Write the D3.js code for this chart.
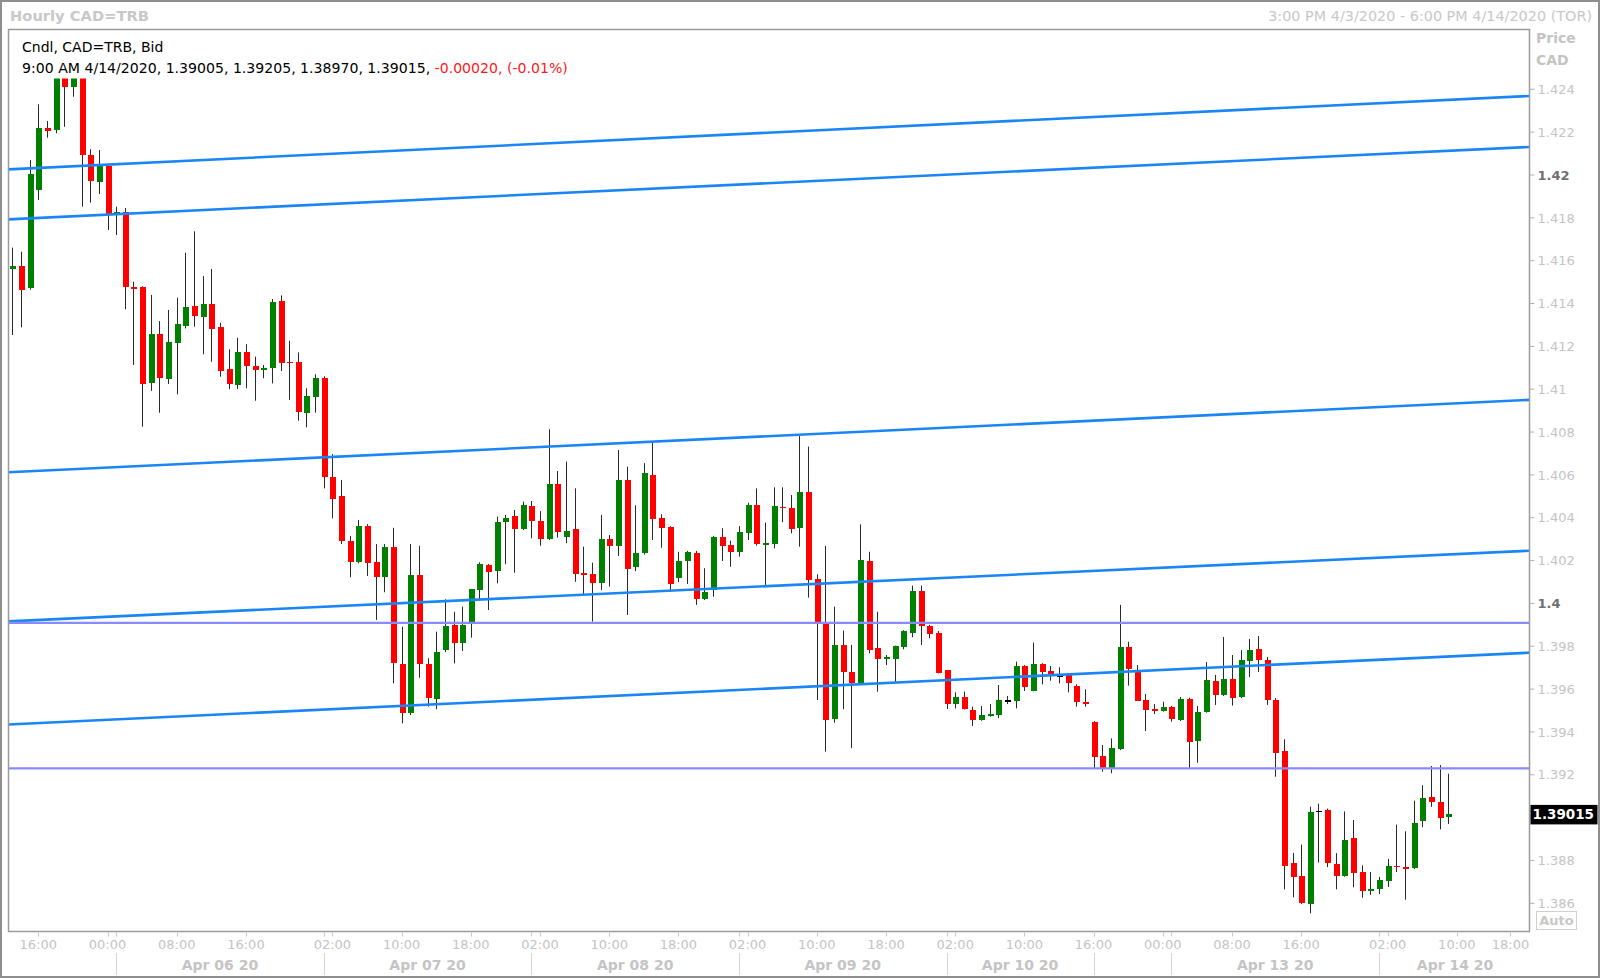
<!DOCTYPE html>
<html><head><meta charset="utf-8">
<script src="https://cdn.jsdelivr.net/npm/d3@7"></script>
<style>
body{margin:0;background:#fff;}
svg{display:block;}
text{font-family:"DejaVu Sans",sans-serif;}
</style>
</head><body>
<svg id="chart" width="1600" height="978"></svg>
<script>
// ---------- DATA ----------
const opens = [1.41561,1.41577,1.41474,1.41930,1.42218,1.42210,1.42500,1.42409,1.42520,1.42092,
1.41969,1.42042,1.41818,1.41826,1.41476,1.41478,1.41027,1.41258,1.41048,1.41217,
1.41295,1.41390,1.41338,1.41398,1.41289,1.41093,1.41020,1.41172,1.41110,1.41090,
1.41098,1.41413,1.41128,1.41126,1.40890,1.40965,1.41054,1.40589,1.40501,1.40291,
1.40195,1.40363,1.40192,1.40122,1.40265,1.39717,1.39487,1.40133,1.39717,1.39554,
1.39782,1.39899,1.39814,1.39915,1.40063,1.40181,1.40151,1.40379,1.40408,1.40347,
1.40456,1.40386,1.40302,1.40557,1.40311,1.40346,1.40141,1.40137,1.40094,1.40301,
1.40268,1.40576,1.40170,1.40237,1.40599,1.40397,1.40355,1.40120,1.40199,1.40234,
1.40021,1.40063,1.40311,1.40274,1.40239,1.40327,1.40459,1.40274,1.40279,1.40451,
1.40447,1.40351,1.40519,1.40113,1.39912,1.39460,1.39806,1.39678,1.39627,1.40198,
1.39790,1.39742,1.39742,1.39795,1.39863,1.40060,1.39896,1.39860,1.39689,1.39529,
1.39564,1.39502,1.39456,1.39474,1.39479,1.39547,1.39546,1.39709,1.39593,1.39716,
1.39684,1.39666,1.39666,1.39616,1.39541,1.39445,1.39288,1.39230,1.39319,1.39798,
1.39681,1.39549,1.39506,1.39498,1.39515,1.39456,1.39555,1.39357,1.39495,1.39639,
1.39572,1.39647,1.39562,1.39733,1.39788,1.39734,1.39549,1.39311,1.38790,1.38727,
1.38597,1.39032,1.39036,1.38783,1.38729,1.38905,1.38748,1.38659,1.38667,1.38706,
1.38776,1.38771,1.38765,1.38983,1.39095,1.39073,1.39005];
const highs = [1.41661,1.41642,1.42070,1.42330,1.42252,1.42560,1.42580,1.42620,1.42580,1.42120,
1.42117,1.42050,1.41852,1.41846,1.41502,1.41480,1.41440,1.41318,1.41370,1.41427,
1.41637,1.41737,1.41528,1.41561,1.41310,1.41186,1.41240,1.41210,1.41152,1.41113,
1.41421,1.41438,1.41226,1.41172,1.41004,1.41070,1.41060,1.40697,1.40576,1.40315,
1.40389,1.40370,1.40277,1.40277,1.40353,1.39891,1.40277,1.40269,1.39744,1.39868,
1.40019,1.39961,1.39985,1.40066,1.40192,1.40184,1.40405,1.40413,1.40436,1.40475,
1.40478,1.40431,1.40813,1.40618,1.40662,1.40537,1.40265,1.40190,1.40413,1.40319,
1.40716,1.40638,1.40458,1.40655,1.40753,1.40416,1.40360,1.40241,1.40245,1.40245,
1.40164,1.40315,1.40351,1.40293,1.40361,1.40470,1.40537,1.40377,1.40542,1.40542,
1.40506,1.40781,1.40732,1.40136,1.40268,1.39985,1.39873,1.39806,1.40369,1.40241,
1.39961,1.39759,1.39803,1.39875,1.40083,1.40083,1.39900,1.39871,1.39689,1.39585,
1.39588,1.39518,1.39521,1.39530,1.39619,1.39568,1.39728,1.39712,1.39817,1.39721,
1.39708,1.39702,1.39668,1.39622,1.39599,1.39450,1.39339,1.39370,1.39993,1.39821,
1.39712,1.39577,1.39530,1.39541,1.39521,1.39563,1.39560,1.39521,1.39726,1.39666,
1.39843,1.39759,1.39782,1.39834,1.39848,1.39750,1.39558,1.39366,1.38835,1.38874,
1.39051,1.39065,1.39042,1.38834,1.39029,1.38989,1.38777,1.38746,1.38723,1.38807,
1.38967,1.38936,1.39079,1.39151,1.39241,1.39245,1.39205];
const lows = [1.41253,1.41289,1.41465,1.41883,1.42174,1.42195,1.42225,1.42365,1.41852,1.41871,
1.41911,1.41743,1.41720,1.41373,1.41113,1.40825,1.40992,1.40890,1.41024,1.40976,
1.41284,1.41292,1.41163,1.41128,1.41058,1.41000,1.41000,1.41004,1.40946,1.41051,
1.41027,1.41085,1.40950,1.40853,1.40822,1.40890,1.40537,1.40397,1.40277,1.40122,
1.40187,1.40128,1.39923,1.40052,1.39627,1.39440,1.39479,1.39653,1.39518,1.39506,
1.39772,1.39720,1.39778,1.39840,1.40016,1.39969,1.40094,1.40183,1.40143,1.40343,
1.40304,1.40269,1.40296,1.40307,1.40281,1.40101,1.40039,1.39915,1.40063,1.40078,
1.40221,1.39946,1.40151,1.40228,1.40296,1.40260,1.40055,1.40099,1.40091,1.39993,
1.40016,1.40031,1.40198,1.40171,1.40218,1.40296,1.40270,1.40086,1.40257,1.40379,
1.40327,1.40265,1.40027,1.39549,1.39308,1.39443,1.39506,1.39324,1.39620,1.39767,
1.39588,1.39712,1.39634,1.39786,1.39842,1.39806,1.39837,1.39673,1.39507,1.39510,
1.39505,1.39428,1.39452,1.39471,1.39464,1.39530,1.39510,1.39591,1.39590,1.39622,
1.39639,1.39627,1.39585,1.39518,1.39518,1.39230,1.39214,1.39207,1.39315,1.39616,
1.39545,1.39404,1.39484,1.39495,1.39448,1.39451,1.39232,1.39256,1.39490,1.39526,
1.39568,1.39523,1.39558,1.39656,1.39680,1.39526,1.39191,1.38665,1.38628,1.38597,
1.38553,1.38790,1.38769,1.38665,1.38724,1.38675,1.38626,1.38639,1.38643,1.38676,
1.38746,1.38617,1.38760,1.38955,1.39050,1.38945,1.38970];
const closes = [1.41575,1.41463,1.42003,1.42221,1.42205,1.42500,1.42409,1.42520,1.42093,1.41973,
1.42042,1.41818,1.41827,1.41476,1.41466,1.41023,1.41258,1.41054,1.41220,1.41304,
1.41385,1.41342,1.41398,1.41282,1.41085,1.41023,1.41172,1.41108,1.41090,1.41100,
1.41406,1.41124,1.41121,1.40892,1.40968,1.41051,1.40589,1.40489,1.40293,1.40195,
1.40363,1.40190,1.40122,1.40265,1.39720,1.39490,1.40133,1.39716,1.39560,1.39775,
1.39894,1.39814,1.39899,1.40066,1.40184,1.40147,1.40381,1.40399,1.40347,1.40459,
1.40386,1.40301,1.40557,1.40335,1.40339,1.40137,1.40137,1.40094,1.40301,1.40268,
1.40576,1.40161,1.40234,1.40607,1.40396,1.40351,1.40089,1.40198,1.40241,1.40021,
1.40055,1.40311,1.40269,1.40239,1.40332,1.40459,1.40276,1.40281,1.40456,1.40444,
1.40346,1.40519,1.40109,1.39912,1.39456,1.39806,1.39678,1.39630,1.40203,1.39782,
1.39739,1.39748,1.39803,1.39871,1.40060,1.39894,1.39857,1.39676,1.39529,1.39564,
1.39507,1.39456,1.39479,1.39484,1.39549,1.39547,1.39709,1.39611,1.39716,1.39678,
1.39670,1.39666,1.39627,1.39538,1.39529,1.39284,1.39230,1.39324,1.39795,1.39692,
1.39546,1.39502,1.39498,1.39515,1.39460,1.39555,1.39354,1.39492,1.39642,1.39572,
1.39647,1.39560,1.39736,1.39782,1.39734,1.39549,1.39303,1.38774,1.38724,1.38600,
1.39028,1.39032,1.38787,1.38729,1.38895,1.38743,1.38659,1.38667,1.38709,1.38776,
1.38769,1.38762,1.38976,1.39090,1.39071,1.39000,1.39015];

// trend lines: [startIndex, startPrice, endIndex, endPrice]
const channelLines = [
  [-0.45, 1.42026, 175.4, 1.42369],
  [-0.45, 1.41793, 175.4, 1.42131],
  [-0.45, 1.40612, 175.4, 1.40950],
  [-0.45, 1.39916, 175.4, 1.40246],
  [-0.45, 1.39435, 175.4, 1.39770]
];
const levelLines = [1.39909, 1.39230];

const yTickValues = [1.386,1.388,1.390,1.392,1.394,1.396,1.398,1.400,1.402,1.404,1.406,1.408,1.410,1.412,1.414,1.416,1.418,1.420,1.422,1.424];
const yBoldTicks = [1.400, 1.420];
const timeTickIdx = [3,11,19,27,37,45,53,61,69,77,85,93,101,109,117,125,133,141,149,159,167,173.2];
const timeTickLabels = ["16:00","00:00","08:00","16:00","02:00","10:00","18:00","02:00","10:00","18:00","02:00","10:00","18:00","02:00","10:00","16:00","00:00","08:00","16:00","02:00","10:00","18:00"];
const daySepIdx = [12,36,60,84,108,125,134,158];
const dateLabelIdx = [24,48,72,96,116.5,146,166.8];
const dateLabels = ["Apr 06 20","Apr 07 20","Apr 08 20","Apr 09 20","Apr 10 20","Apr 13 20","Apr 14 20"];
const lastPrice = 1.39015;
const slotDomain = [-0.45, 175.4];
const priceDomain = [1.384683, 1.426792];

// ---------- DRAW ----------
const svg = d3.select("#chart");
const P = {l:8.5, t:29.5, r:1529.5, b:931.5};
const x = d3.scaleLinear().domain(slotDomain).range([P.l, P.r]);
const y = d3.scaleLinear().domain(priceDomain).range([P.b, P.t]);
const fmt = v => String(+v.toFixed(3));

svg.append("rect").attr("width",1600).attr("height",978).attr("fill","#fff");
svg.append("defs").append("clipPath").attr("id","pc")
  .append("rect").attr("x",P.l).attr("y",P.t).attr("width",P.r-P.l).attr("height",P.b-P.t);

const g = svg.append("g").attr("clip-path","url(#pc)");
const data = opens.map((o,i)=>({i,o,h:highs[i],l:lows[i],c:closes[i]}));
const bw = 6;
g.selectAll("line.wick").data(data).join("line")
  .attr("class","wick")
  .attr("x1",d=>Math.round(x(d.i))+0.5).attr("x2",d=>Math.round(x(d.i))+0.5)
  .attr("y1",d=>y(d.h)).attr("y2",d=>y(d.l))
  .attr("stroke","#2a2a2a").attr("stroke-width",1);
g.selectAll("rect.body").data(data).join("rect")
  .attr("class","body")
  .attr("x",d=>Math.round(x(d.i))+0.5-bw/2)
  .attr("width",bw)
  .attr("y",d=>y(Math.max(d.o,d.c)))
  .attr("height",d=>Math.max(1.6, Math.abs(y(d.o)-y(d.c))))
  .attr("fill",d=> d.c>d.o ? "#008000" : (d.c<d.o ? "#ff0000" : "#000"))
  .attr("shape-rendering","crispEdges");

g.selectAll("line.ch").data(channelLines).join("line")
  .attr("x1",d=>x(d[0])).attr("y1",d=>y(d[1]))
  .attr("x2",d=>x(d[2])).attr("y2",d=>y(d[3]))
  .attr("stroke","#1a86f5").attr("stroke-width",2.6);
g.selectAll("line.lv").data(levelLines).join("line")
  .attr("x1",P.l).attr("x2",P.r)
  .attr("y1",d=>y(d)).attr("y2",d=>y(d))
  .attr("stroke","#8a8aff").attr("stroke-width",2.4);

// legend box
svg.append("rect").attr("x",P.l+1).attr("y",P.t+1).attr("width",570).attr("height",48).attr("fill","#fff");
svg.append("text").attr("x",22).attr("y",52).attr("font-size",14).attr("fill","#000").text("Cndl, CAD=TRB, Bid");
const lt = svg.append("text").attr("x",22).attr("y",73).attr("font-size",14.1).attr("fill","#000");
lt.append("tspan").text("9:00 AM 4/14/2020, 1.39005, 1.39205, 1.38970, 1.39015, ");
lt.append("tspan").attr("fill","#ff1a1a").text("-0.00020, (-0.01%)");

// plot frame
svg.append("rect").attr("x",P.l).attr("y",P.t).attr("width",P.r-P.l).attr("height",P.b-P.t)
  .attr("fill","none").attr("stroke","#9a9a9a").attr("stroke-width",1.5);

// y axis
const ly = y(lastPrice);
const ya = svg.append("g");
yTickValues.forEach(v=>{
  const yy = y(v);
  const bold = yBoldTicks.some(b=>Math.abs(b-v)<1e-9);
  ya.append("line").attr("x1",P.r).attr("x2",P.r+5).attr("y1",yy).attr("y2",yy).attr("stroke","#b0b0b0");
  if (Math.abs(yy-ly) < 16) return; // hidden behind last-price box
  ya.append("text").attr("x",P.r+8).attr("y",yy).attr("dy","0.36em")
    .attr("font-size",13).attr("font-weight",bold?"bold":"normal")
    .attr("fill",bold?"#707070":"#c4c4c4").text(fmt(v));
});
svg.append("text").attr("x",1536).attr("y",43).attr("font-size",14).attr("font-weight","bold").attr("fill","#c4c4c4").text("Price");
svg.append("text").attr("x",1536).attr("y",65).attr("font-size",14).attr("font-weight","bold").attr("fill","#c4c4c4").text("CAD");
svg.append("rect").attr("x",P.r+1).attr("y",ly-9.5).attr("width",67).attr("height",19.5).attr("fill","#000");
svg.append("text").attr("x",P.r+3).attr("y",ly).attr("dy","0.36em").attr("font-size",13.5).attr("font-weight","bold").attr("fill","#fff").text(lastPrice.toFixed(5));
svg.append("rect").attr("x",1536.5).attr("y",911.5).attr("width",40).attr("height",18).attr("fill","#fff").attr("stroke","#d0d0d0");
svg.append("text").attr("x",1556.5).attr("y",925).attr("text-anchor","middle").attr("font-size",13).attr("font-weight","bold").attr("fill","#c8c8c8").text("Auto");

// x axis
const xa = svg.append("g");
timeTickIdx.forEach((t,k)=>{
  const xx = Math.round(x(t))+0.5;
  xa.append("line").attr("x1",xx).attr("x2",xx).attr("y1",P.b).attr("y2",P.b+5).attr("stroke","#c8c8c8");
  xa.append("text").attr("x",x(t)).attr("y",949).attr("text-anchor","middle").attr("font-size",13).attr("fill","#c4c4c4").text(timeTickLabels[k]);
});
daySepIdx.forEach(t=>{
  const xx = Math.round(x(t))+0.5;
  xa.append("line").attr("x1",xx).attr("x2",xx).attr("y1",P.b).attr("y2",P.b+5).attr("stroke","#c8c8c8");
  xa.append("line").attr("x1",xx).attr("x2",xx).attr("y1",953).attr("y2",975).attr("stroke","#d4d4d4");
});
dateLabelIdx.forEach((t,k)=>{
  xa.append("text").attr("x",x(t)).attr("y",970).attr("text-anchor","middle").attr("font-size",14).attr("font-weight","bold").attr("fill","#c4c4c4").text(dateLabels[k]);
});

// header
svg.append("text").attr("x",10).attr("y",21).attr("font-size",14.7).attr("font-weight","bold").attr("fill","#c8c8c8").text("Hourly CAD=TRB");
svg.append("text").attr("x",1592).attr("y",21).attr("text-anchor","end").attr("font-size",14.4).attr("fill","#c8c8c8").text("3:00 PM 4/3/2020 - 6:00 PM 4/14/2020 (TOR)");
svg.append("rect").attr("x",1).attr("y",1).attr("width",1598).attr("height",976).attr("fill","none").attr("stroke","#8e8e8e").attr("stroke-width",2);
</script>
</body></html>
